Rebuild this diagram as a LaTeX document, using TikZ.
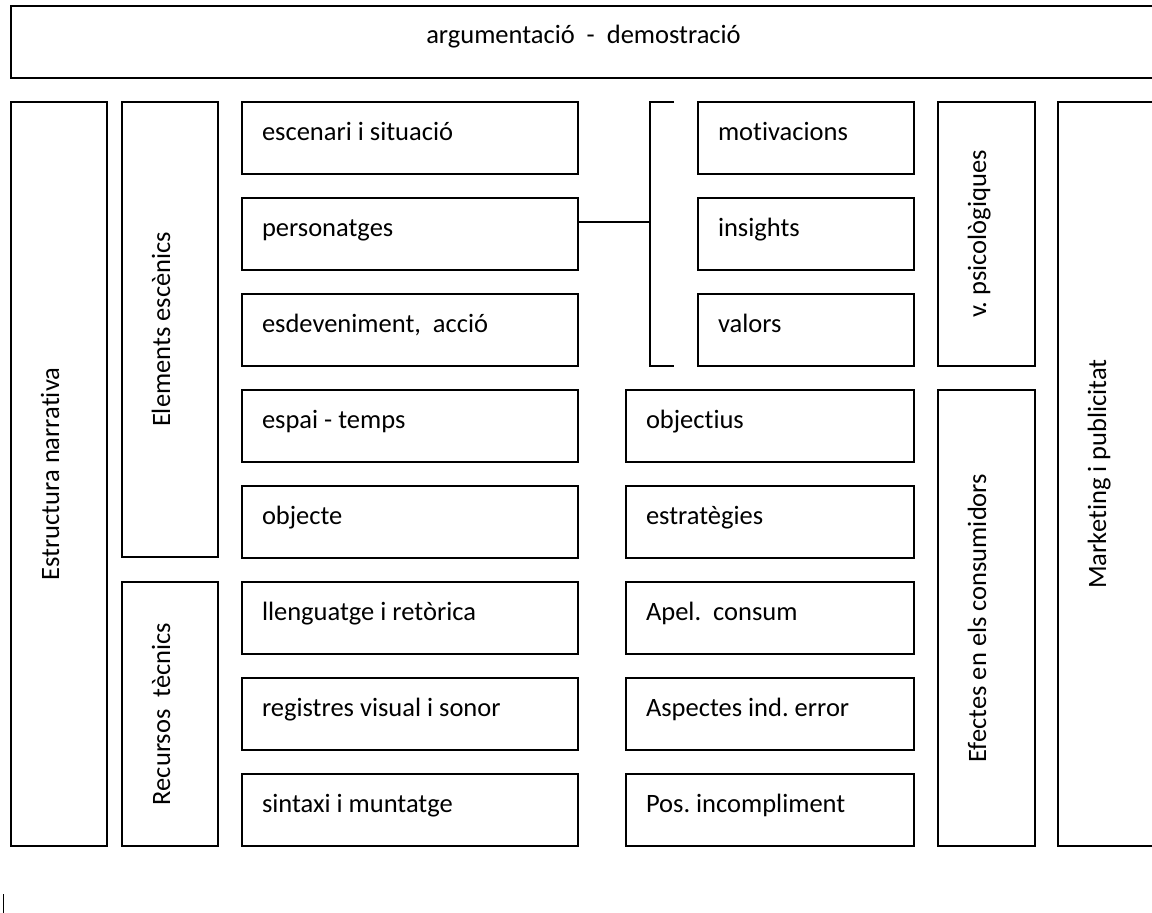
\documentclass[tikz,border=0pt]{standalone}
\usepackage{fontspec}
\setmainfont{Carlito}[Ligatures=NoCommon]
\frenchspacing
\begin{document}
\begin{tikzpicture}[x=1pt,y=-1pt,
  every node/.style={font=\fontsize{26.5pt}{32pt}\selectfont},
  hbox/.style={draw, line width=1.5pt, inner xsep=20pt, inner ysep=0pt, text height=38pt, text depth=34pt, align=flush left},
  vbox/.style={draw, line width=1.5pt, rotate=90, inner sep=0pt, text height=48pt},
  link/.style={line width=1.5pt},
  lcol/.style={hbox, text width=296pt},
  mcol/.style={hbox, text width=176pt},
  rcol/.style={hbox, text width=248pt}]
\useasboundingbox (0,0) rectangle (1152,913);
\clip (0,0) rectangle (1152,913);
% top
\node[hbox, text width=1105pt, align=flush center, text height=37pt, text depth=35pt] (top) at (583.5,42) {argumentació~~-~~demostració};
% vertical boxes
\node[vbox, minimum width=744pt, text depth=48pt] (estr) at (59,474) {Estructura narrativa};
\node[vbox, minimum width=455pt, text depth=48pt] (elem) at (170,329.5) {Elements escènics};
\node[vbox, minimum width=264pt, text depth=48pt] (recu) at (170,714) {Recursos~~tècnics};
\node[vbox, minimum width=264pt, text depth=49pt] (vpsi) at (986.5,234) {v. psicològiques};
\node[vbox, minimum width=456pt, text depth=49pt] (efec) at (986.5,618) {Efectes en els consumidors};
\node[vbox, minimum width=744pt, text depth=84pt] (mark) at (1124,474) {Marketing i publicitat};
% left column
\node[lcol] (esce) at (410,138) {escenari i situació};
\node[lcol] (pers) at (410,234) {personatges};
\node[lcol] (esde) at (410,330) {esdeveniment,~~acció};
\node[lcol] (espa) at (410,426) {espai - temps};
\node[lcol] (obje) at (410,522) {objecte};
\node[lcol] (llen) at (410,618) {llenguatge i retòrica};
\node[lcol] (regi) at (410,714) {registres visual i sonor};
\node[lcol] (sint) at (410,810) {sintaxi i muntatge};
% right column top
\node[mcol] (moti) at (806,138) {motivacions};
\node[mcol] (insi) at (806,234) {insights};
\node[mcol] (valo) at (806,330) {valors};
% right column lower
\node[rcol] (obje2) at (770,426) {objectius};
\node[rcol] (estr2) at (770,522) {estratègies};
\node[rcol] (apel) at (770,618) {Apel.~~consum};
\node[rcol] (aspe) at (770,714) {Aspectes ind. error};
\node[rcol] (posi) at (770,810) {Pos. incompliment};
% bracket
\coordinate (bT) at (674,102);
\coordinate (bTc) at (650,102);
\coordinate (bBc) at (650,366);
\coordinate (bB) at (674,366);
\coordinate (bM) at (650,222);
\draw[link] (bT) -- (bTc) -- (bBc) -- (bB);
\draw[link] (pers.east |- bM) -- (bM);
% small mark
\coordinate (m1) at (3,894);
\coordinate (m2) at (3,913);
\draw[line width=1pt] (m1) -- (m2);
\end{tikzpicture}
\end{document}
